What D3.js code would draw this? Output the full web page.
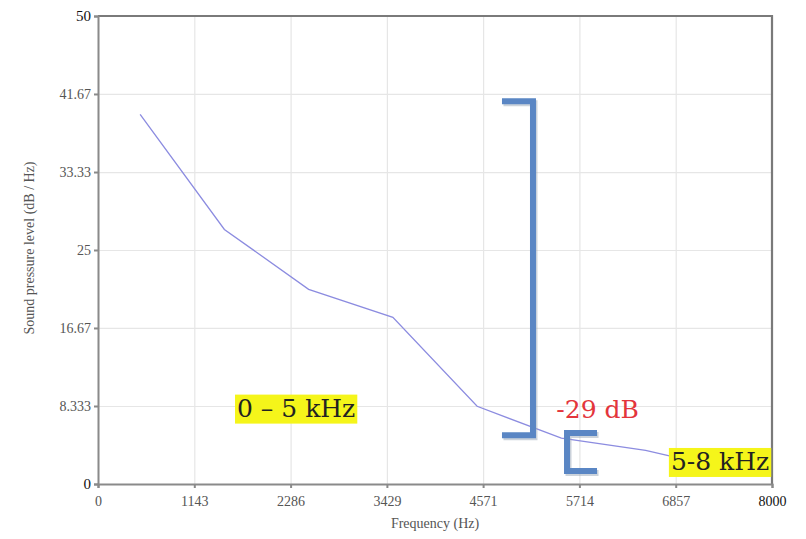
<!DOCTYPE html>
<html>
<head>
<meta charset="utf-8">
<script src="https://cdn.jsdelivr.net/npm/d3@7"></script>
<style>
  body { margin: 0; background: #fff; }
  .grid line { stroke: #e6e6e6; stroke-width: 1.2; }
  .grid path { display: none; }
  .akse path, .akse line { stroke: #8a8a8a; stroke-width: 2; }
  .akse text { font-family: "Liberation Serif", serif; font-size: 14px; fill: #555; }
</style>
</head>
<body>
<div id="chart"></div>
<script>
// data lest av bildet
var freqHz = [500, 1500, 2500, 3500, 4500, 5500, 6500, 7500];
var levelDb = [39.5, 27.2, 20.8, 17.8, 8.3, 4.9, 3.6, 1.5];

var xTicks = [0, 1143, 2286, 3429, 4571, 5714, 6857, 8000];
var yTicks = [0, 8.333, 16.67, 25, 33.33, 41.67, 50];
var yTickLabels = ["0", "8.333", "16.67", "25", "33.33", "41.67", "50"];

// klammer: [x1, x2, yTopp, yBunn] i Hz / dB
var storKlamme = [4795, 5163, 40.9, 5.2];
var litenKlamme = [5923, 5567, 5.45, 1.4];

var margin = {top: 16, right: 34, bottom: 55, left: 98};
var width = 806 - margin.left - margin.right;
var height = 539 - margin.top - margin.bottom;

var svg = d3.select("#chart")
  .append("svg")
    .attr("width", 806)
    .attr("height", 539);

var g = svg.append("g")
  .attr("transform", "translate(" + margin.left + "," + margin.top + ")");

var x = d3.scaleLinear().domain([0, 8000]).range([0, width]);
var y = d3.scaleLinear().domain([0, 50]).range([height, 0]);

// grid
g.append("g")
  .attr("class", "grid")
  .attr("transform", "translate(0," + height + ")")
  .call(d3.axisBottom(x).tickValues(xTicks).tickSize(-height).tickFormat(""));
g.append("g")
  .attr("class", "grid")
  .call(d3.axisLeft(y).tickValues(yTicks).tickSize(-width).tickFormat(""));

// ramme topp og hoyre
g.append("path")
  .attr("d", "M0,0H" + width + "V" + height)
  .style("fill", "none")
  .style("stroke", "#7a7a7a")
  .style("stroke-width", 2.2);

// akser
var xAkse = g.append("g")
  .attr("class", "akse")
  .attr("transform", "translate(0," + height + ")")
  .call(d3.axisBottom(x).tickValues(xTicks).tickSize(4).tickPadding(8).tickFormat(d3.format("d")));
xAkse.selectAll(".tick text").filter(function(d) { return d === 8000; })
  .style("fill", "#111");

var yAkse = g.append("g")
  .attr("class", "akse")
  .call(d3.axisLeft(y).tickValues(yTicks).tickSize(4).tickPadding(3)
    .tickFormat(function(d, i) { return yTickLabels[i]; }));
yAkse.selectAll(".tick text").filter(function(d) { return d === 50 || d === 0; })
  .style("fill", "#111").style("font-size", "15px");

// aksetitler
g.append("text")
  .attr("x", width / 2)
  .attr("y", height + 44)
  .attr("text-anchor", "middle")
  .style("font-family", "Liberation Serif, serif")
  .style("font-size", "14px")
  .style("fill", "#555")
  .text("Frequency (Hz)");

g.append("text")
  .attr("transform", "translate(-64," + (height / 2 - 2) + ") rotate(-90)")
  .attr("text-anchor", "middle")
  .style("font-family", "Liberation Serif, serif")
  .style("font-size", "14px")
  .style("fill", "#555")
  .text("Sound pressure level (dB / Hz)");

// linja
var data = freqHz.map(function(f, i) { return {f: f, v: levelDb[i]}; });
var line = d3.line()
  .x(function(d) { return x(d.f); })
  .y(function(d) { return y(d.v); });

g.append("path")
  .datum(data)
  .attr("d", line)
  .style("fill", "none")
  .style("stroke", "#8c8ce0")
  .style("stroke-width", 1.3);

// klammer
function klamme(k) {
  return "M" + x(k[0]) + "," + y(k[2]) + "H" + x(k[1]) + "V" + y(k[3]) + "H" + x(k[0]);
}
[storKlamme, litenKlamme].forEach(function(k) {
  g.append("path")
    .attr("d", klamme(k))
    .attr("transform", "translate(1.5,2)")
    .style("fill", "none")
    .style("stroke", "#9aa8b8")
    .style("stroke-opacity", 0.5)
    .style("stroke-width", 6);
  g.append("path")
    .attr("d", klamme(k))
    .style("fill", "none")
    .style("stroke", "#5a86c4")
    .style("stroke-width", 6);
});

// merkelapper
function merkelapp(tekst, f, v, farge, bakgrunn) {
  var lapp = g.append("g");
  var t = lapp.append("text")
    .attr("x", x(f))
    .attr("y", y(v))
    .style("font-family", "DejaVu Serif, serif")
    .style("font-size", "25px")
    .style("fill", farge)
    .text(tekst);
  if (bakgrunn) {
    var bb = t.node().getBBox();
    lapp.insert("rect", "text")
      .attr("x", bb.x - 2)
      .attr("y", bb.y + 1)
      .attr("width", bb.width + 4)
      .attr("height", bb.height)
      .style("fill", bakgrunn);
  }
}

merkelapp("0 \u2013 5 kHz", 1650, 7.2, "#222", "#f5f51a");
merkelapp("-29 dB", 5440, 7.05, "#e3353c", null);
merkelapp("5-8 kHz", 6800, 1.5, "#222", "#f5f51a");
</script>
</body>
</html>
